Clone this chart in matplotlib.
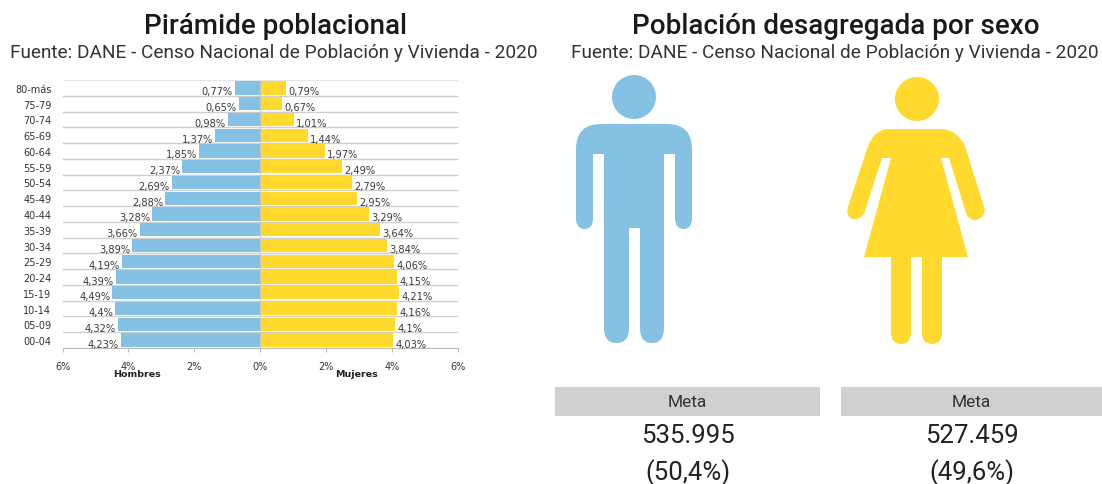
import matplotlib
matplotlib.use("Agg")
import matplotlib.pyplot as plt
from matplotlib.path import Path
from matplotlib.patches import PathPatch, Circle, Rectangle

ages = ["80-más","75-79","70-74","65-69","60-64","55-59","50-54","45-49","40-44",
        "35-39","30-34","25-29","20-24","15-19","10-14","05-09","00-04"]
men = [0.77,0.65,0.98,1.37,1.85,2.37,2.69,2.88,3.28,3.66,3.89,4.19,4.39,4.49,4.4,4.32,4.23]
women = [0.79,0.67,1.01,1.44,1.97,2.49,2.79,2.95,3.29,3.64,3.84,4.06,4.15,4.21,4.16,4.1,4.03]
ticks = [-6,-4,-2,0,2,4,6]
BLUE = "#84C1E3"
YELLOW = "#FFD92E"
GREY = "#D0D0D0"
W, H = 1102, 485

def fmt(v):
    return f"{v:g}".replace(".", ",") + "%"

fig = plt.figure(figsize=(W/100, H/100), dpi=100, facecolor="white")
ax = fig.add_axes([62.5/W, 1-349/H, 395.5/W, 268/H])
rows = list(range(len(ages)))
ax.barh(rows, [-v for v in men], height=0.84, color=BLUE, zorder=3)
ax.barh(rows, women, height=0.84, color=YELLOW, zorder=3)
ax.axvline(0, color="#C8C8C8", lw=0.8, zorder=4)
ax.set_xlim(-6, 6)
ax.set_ylim(len(ages)-0.5, -0.5)
for r in rows:
    ax.axhline(r+0.5, color="#CFCFCF", lw=1.0, zorder=1)
ax.axhline(-0.5, color="#E6E6E6", lw=1.0, zorder=1)
for r, m, f in zip(rows, men, women):
    ax.annotate(fmt(m), (-m, r), xytext=(-1.5, -2.5), textcoords="offset points", ha="right", va="center",
                fontsize=7.1, color="#3A3A3A", family="DejaVu Sans", zorder=5)
    ax.annotate(fmt(f), (f, r), xytext=(1.5, -2.5), textcoords="offset points", ha="left", va="center",
                fontsize=7.1, color="#3A3A3A", family="DejaVu Sans", zorder=5)
ax.set_yticks(rows, ages, fontsize=7, color="#333333")
ax.set_xticks(ticks, [f"{abs(t)}%" for t in ticks], fontsize=7, color="#333333")
ax.tick_params(axis="y", length=0, pad=8)
ax.tick_params(axis="x", length=3, width=0.8, color="#BBBBBB", pad=6)
for s in ["top", "left", "right"]:
    ax.spines[s].set_visible(False)
ax.spines["bottom"].set_color("#BBBBBB")
ax.set_facecolor("none")

ov = fig.add_axes([0, 0, 1, 1], facecolor="none")
ov.set_xlim(0, W); ov.set_ylim(H, 0); ov.axis("off")

def txt(x, y, s, size, weight="normal", color="#222222", family="Roboto"):
    ov.text(x, y, s, fontsize=size, fontweight=weight, color=color, family=family, ha="center", va="center")

txt(275, 26, "Pirámide poblacional", 20, "medium", "#1A1A1A")
txt(274, 53, "Fuente: DANE - Censo Nacional de Población y Vivienda - 2020", 13.7, color="#333333")
txt(836, 26, "Población desagregada por sexo", 20, "medium", "#1A1A1A")
txt(835, 53, "Fuente: DANE - Censo Nacional de Población y Vivienda - 2020", 13.7, color="#333333")
txt(136.5, 375, "Hombres", 6.8, "bold", family="DejaVu Sans")
txt(357, 375, "Mujeres", 6.8, "bold", family="DejaVu Sans")

def shape(points, color):
    """points: (x, y) corner or (x, y, 'c') quadratic control point."""
    verts, codes = [], []
    for i, p in enumerate(points):
        verts.append(p[:2])
        codes.append(Path.MOVETO if i == 0 else (Path.CURVE3 if len(p) == 3 or (len(points[i-1]) == 3) else Path.LINETO))
    verts.append(points[0][:2]); codes.append(Path.CLOSEPOLY)
    ov.add_patch(PathPatch(Path(verts, codes), fc=color, ec="none"))

# man
ov.add_patch(Circle((634, 98), 22, fc=BLUE, ec="none"))
shape([(601,125),(667,125),(692,125,'c'),(692,150),(692,219),(692,230,'c'),(683.5,230),(675,230,'c'),(675,219),
       (675,155),(664,155),(664,329),(664,344,'c'),(652,344),(640,344,'c'),(640,329),(640,229),(629,229),(629,329),
       (629,344,'c'),(616.5,344),(604,344,'c'),(604,329),(604,155),(593,155),(593,219),(593,230,'c'),(584.5,230),
       (576,230,'c'),(576,219),(576,150),(576,125,'c'),(601,125)], BLUE)

# woman
ov.add_patch(Circle((917, 100), 22, fc=YELLOW, ec="none"))
shape([(886,130),(943,130),(958,132,'c'),(965,147),(984,208),(987,217,'c'),(977,221),(969,222,'c'),(966,214),
       (949,159),(941,159),(968,258),(942,258),(942,333),(942,345,'c'),(932,345),(922,345,'c'),(922,333),(922,258),
       (911,258),(911,333),(911,345,'c'),(901,345),(891,345,'c'),(891,333),(891,258),(864,258),(891,159),(882,159),
       (865,212),(862,221,'c'),(853,220),(845,217,'c'),(848,208),(868,147),(874,132,'c'),(886,130)], YELLOW)

# boxes
for x0, x1, value, share in [(555, 820, "535.995", "(50,4%)"), (841, 1102, "527.459", "(49,6%)")]:
    ov.add_patch(Rectangle((x0, 388), x1-x0, 29, fc=GREY, ec="none"))
    cx = (x0+x1)/2
    txt(cx, 403, "Meta", 12.5, color="#333333")
    txt(cx, 436, value, 18.5, color="#222222")
    txt(cx, 473, share, 18.5, color="#222222")

fig.savefig("out.png", dpi=100)
